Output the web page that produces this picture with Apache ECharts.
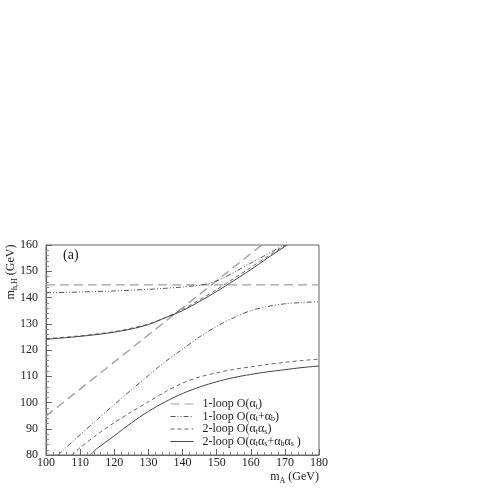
<!DOCTYPE html>
<html>
<head>
  <meta charset="utf-8">
  <title>m_h,H vs m_A</title>
  <script src="https://cdn.jsdelivr.net/npm/echarts@6/dist/echarts.min.js"></script>
  <style>
    html, body { margin: 0; padding: 0; background: #fff; }
  </style>
</head>
<body>
  <div id="main" style="width: 491px;height:491px;"></div>
  <script type="text/javascript">
    // axis ticks
    var xTicks = [100, 110, 120, 130, 140, 150, 160, 170, 180];
    var yTicks = [80, 90, 100, 110, 120, 130, 140, 150, 160];

    // 1-loop O(at): two straight branches
    var a1FlatX = [100, 180];
    var a1FlatY = [144.8, 144.8];
    var a1DiagX = [100, 163.2];
    var a1DiagY = [94.8, 160];

    // 1-loop O(at+ab)
    var b1UpX = [100, 110, 120, 130, 135, 140, 145, 148, 150, 152, 155, 160, 165, 169.8];
    var b1UpY = [141.8, 142.1, 142.5, 143.1, 143.5, 144.0, 144.7, 145.4, 146.3, 147.5, 149.5, 153.1, 156.6, 160];
    var b1LoX = [103.5, 105, 110, 115, 120, 125, 130, 135, 140, 145, 150, 155, 160, 165, 170, 175, 180];
    var b1LoY = [80, 81.8, 87.7, 93.5, 99.2, 104.8, 110.3, 115.6, 120.3, 125, 129, 132.3, 135, 136.6, 137.6, 138.1, 138.4];

    // 2-loop O(at as)
    var c2UpX = [100, 110, 120, 130, 135, 140, 145, 150, 155, 160, 165, 170.2];
    var c2UpY = [124.3, 125.4, 127.0, 129.9, 132.4, 135.5, 139.1, 143.0, 147.2, 151.4, 155.7, 160];
    var c2LoX = [107.5, 110, 115, 120, 125, 130, 135, 140, 145, 150, 155, 160, 165, 170, 175, 180];
    var c2LoY = [80, 82.8, 87.8, 92.3, 96.4, 100.3, 104.1, 107.4, 109.7, 111.3, 112.6, 113.6, 114.5, 115.3, 116, 116.5];

    // 2-loop O(at as + ab as)
    var d2UpX = [100, 105, 110, 115, 120, 125, 130, 135, 140, 145, 150, 155, 160, 165, 170.6];
    var d2UpY = [124.1, 124.6, 125.2, 125.9, 126.8, 128.0, 129.7, 132.3, 135.0, 138.5, 142.3, 146.4, 150.6, 155.1, 160];
    var d2LoX = [113, 115, 120, 125, 130, 135, 140, 145, 150, 155, 160, 165, 170, 175, 180];
    var d2LoY = [80, 82.5, 87.3, 92.2, 96.6, 100.3, 103.4, 105.9, 107.9, 109.5, 110.7, 111.7, 112.5, 113.3, 113.9];

    var names = ['1-loop O(at)', '1-loop O(at+ab)', '2-loop O(atas)', '2-loop O(atas+abas)'];
    var richNames = {
      '1-loop O(at)': '{n|1-loop O(α}{s|t}{n|)}',
      '1-loop O(at+ab)': '{n|1-loop O(α}{s|t}{n|+α}{s|b}{n|)}',
      '2-loop O(atas)': '{n|2-loop O(α}{s|t}{n|α}{s|s}{n|)}',
      '2-loop O(atas+abas)': '{n|2-loop O(α}{s|t}{n|α}{s|s}{n|+α}{s|b}{n|α}{s|s}{n| )}'
    };

    var styles = {};
    styles[names[0]] = { color: '#a0a0a0', width: 1.4, type: [9, 5] };
    styles[names[1]] = { color: '#555', width: 1, type: [5, 2, 1, 2, 1, 2] };
    styles[names[2]] = { color: '#666', width: 1, type: [4, 3] };
    styles[names[3]] = { color: '#444', width: 1, type: 'solid' };

    function zip(xs, ys) {
      return xs.map(function (x, i) { return [x, ys[i]]; });
    }

    function line(name, xs, ys) {
      return {
        name: name,
        type: 'line',
        data: zip(xs, ys),
        smooth: 0.3,
        symbol: 'none',
        color: styles[name].color,
        lineStyle: styles[name],
        animation: false
      };
    }

    var serif = 'Liberation Serif';
    var myChart = echarts.init(document.getElementById('main'));

    var option = {
      animation: false,
      grid: {
        left: 46, right: 172, top: 245, bottom: 36,
        show: true, borderColor: '#666', borderWidth: 1
      },
      xAxis: {
        type: 'value',
        min: xTicks[0], max: xTicks[xTicks.length - 1], interval: 10,
        axisLine: { lineStyle: { color: '#666' } },
        axisTick: { inside: true, length: 6, lineStyle: { color: '#666' } },
        minorTick: { show: true, splitNumber: 5, length: 3, lineStyle: { color: '#888' } },
        splitLine: { show: false },
        axisLabel: { color: '#222', fontFamily: serif, fontSize: 12, margin: 2 }
      },
      yAxis: {
        type: 'value',
        min: yTicks[0], max: yTicks[yTicks.length - 1], interval: 10,
        axisLine: { lineStyle: { color: '#666' } },
        axisTick: { inside: true, length: 6, lineStyle: { color: '#666' } },
        minorTick: { show: true, splitNumber: 5, length: 3, lineStyle: { color: '#888' } },
        splitLine: { show: false },
        axisLabel: { color: '#222', fontFamily: serif, fontSize: 12, margin: 8 }
      },
      legend: {
        data: names,
        orient: 'vertical',
        left: 170, top: 398,
        padding: 0,
        itemWidth: 23, itemHeight: 9, itemGap: 0,
        itemStyle: { opacity: 0, borderWidth: 0 },
        lineStyle: { width: 1 },
        formatter: function (name) { return richNames[name]; },
        textStyle: {
          padding: [0, 0, 0, 4],
          rich: {
            n: { fontFamily: serif, fontSize: 12, color: '#222', lineHeight: 13 },
            s: { fontFamily: serif, fontSize: 8, color: '#222', lineHeight: 13, verticalAlign: 'bottom' }
          }
        }
      },
      graphic: [
        {
          type: 'text', x: 63, y: 255,
          style: { text: '(a)', font: '14px "Liberation Serif"', fill: '#222', textVerticalAlign: 'middle' }
        },
        {
          type: 'text', x: 11, y: 272, rotation: Math.PI / 2,
          style: {
            text: '{n|m}{s|h,H}{n| (GeV)}',
            textAlign: 'center', textVerticalAlign: 'middle',
            rich: {
              n: { fontFamily: serif, fontSize: 12, fill: '#222', lineHeight: 16 },
              s: { fontFamily: serif, fontSize: 8, fill: '#222', lineHeight: 16, verticalAlign: 'bottom' }
            }
          }
        },
        {
          type: 'text', x: 319, y: 477,
          style: {
            text: '{n|m}{s|A}{n| (GeV)}',
            textAlign: 'right', textVerticalAlign: 'middle',
            rich: {
              n: { fontFamily: serif, fontSize: 12, fill: '#222', lineHeight: 16 },
              s: { fontFamily: serif, fontSize: 8, fill: '#222', lineHeight: 16, verticalAlign: 'bottom' }
            }
          }
        }
      ],
      series: [
        line(names[0], a1FlatX, a1FlatY),
        line(names[0], a1DiagX, a1DiagY),
        line(names[1], b1UpX, b1UpY),
        line(names[1], b1LoX, b1LoY),
        line(names[2], c2UpX, c2UpY),
        line(names[2], c2LoX, c2LoY),
        line(names[3], d2UpX, d2UpY),
        line(names[3], d2LoX, d2LoY)
      ]
    };

    myChart.setOption(option);
  </script>
</body>
</html>
